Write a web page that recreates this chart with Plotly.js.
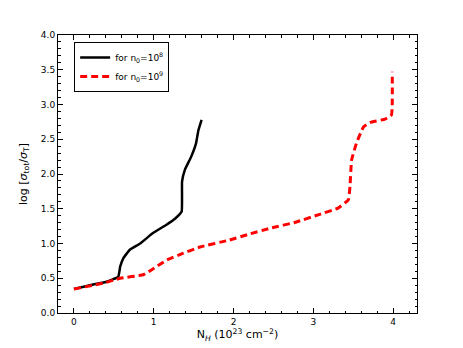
<!DOCTYPE html>
<html>
<head>
<meta charset="utf-8">
<script src="https://cdn.plot.ly/plotly-3.0.1.min.js"></script>
<style>
  body { margin: 0; background: #fff; }
  #chart { width: 463px; height: 348px; }
</style>
</head>
<body>
<div id="chart"></div>
<script>
// column density N_H (10^23 cm^-2) and log cross-section ratio
var nh8 = [0, 0.24, 0.41, 0.555, 0.58, 0.62, 0.70, 0.83, 0.99, 1.16, 1.27, 1.35, 1.355, 1.39, 1.47, 1.53, 1.56, 1.60];
var sig8 = [0.345, 0.41, 0.45, 0.52, 0.67, 0.79, 0.91, 1.0, 1.15, 1.27, 1.36, 1.46, 1.89, 2.06, 2.25, 2.44, 2.63, 2.78];

var nh9 = [0, 0.37, 0.58, 0.87, 0.97, 1.16, 1.37, 1.58, 1.95, 2.21, 2.46, 2.79, 3.08, 3.31, 3.44, 3.46, 3.48, 3.54, 3.63, 3.71, 3.90, 3.98, 3.99, 3.99];
var sig9 = [0.345, 0.43, 0.50, 0.55, 0.62, 0.76, 0.86, 0.95, 1.05, 1.14, 1.22, 1.31, 1.42, 1.51, 1.63, 1.82, 2.20, 2.44, 2.68, 2.74, 2.79, 2.85, 3.02, 3.47];

var data = [{
  x: nh8,
  y: sig8,
  mode: 'lines',
  name: 'for n<sub>0</sub>=10<sup>8</sup>',
  line: {color: 'black', width: 2.5, shape: 'spline', smoothing: 0.3}
}, {
  x: nh9,
  y: sig9,
  mode: 'lines',
  name: 'for n<sub>0</sub>=10<sup>9</sup>',
  line: {color: 'red', width: 3, dash: '7px,4px', shape: 'spline', smoothing: 0.3}
}];

var layout = {
  width: 463,
  height: 348,
  margin: {l: 58, r: 46, t: 35, b: 35},
  paper_bgcolor: 'white',
  plot_bgcolor: 'white',
  font: {family: 'DejaVu Sans', size: 9, color: 'black'},
  showlegend: true,
  legend: {
    x: 0.045, y: 0.975, xanchor: 'left', yanchor: 'top',
    bordercolor: 'black', borderwidth: 1,
    font: {size: 9},
    itemwidth: 30,
    tracegroupgap: 0
  },
  xaxis: {
    range: [-0.2, 4.3],
    dtick: 1,
    ticks: 'inside', ticklen: 5, tickcolor: 'black',
    minor: {dtick: 0.2, ticks: 'inside', ticklen: 2.5, tickcolor: 'black'},
    showgrid: false, zeroline: false,
    showline: true, linecolor: 'black', linewidth: 1, mirror: 'allticks',
    title: {text: 'N<sub><i>H</i></sub> (10<sup>23</sup> cm<sup>\u22122</sup>)', font: {size: 11}, standoff: 4}
  },
  yaxis: {
    range: [0, 4],
    dtick: 0.5,
    tickformat: '.1f',
    ticks: 'inside', ticklen: 5, tickcolor: 'black',
    minor: {dtick: 0.1, ticks: 'inside', ticklen: 2.5, tickcolor: 'black'},
    showgrid: false, zeroline: false,
    showline: true, linecolor: 'black', linewidth: 1, mirror: 'allticks',
    title: {text: 'log [<i>\u03c3</i><sub>tot</sub>/<i>\u03c3</i><sub>T</sub>]', font: {size: 11}, standoff: 11}
  }
};

Plotly.newPlot('chart', data, layout, {displayModeBar: false});
</script>
</body>
</html>
